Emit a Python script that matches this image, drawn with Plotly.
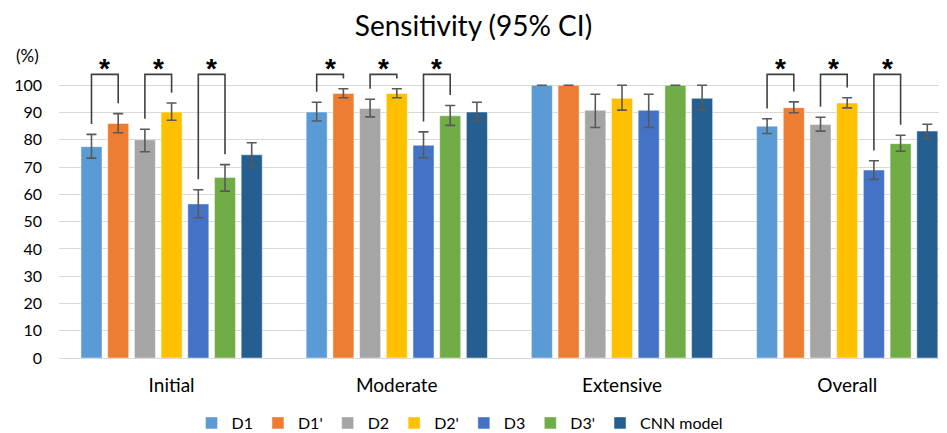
import plotly.graph_objects as go

categories = ["Initial", "Moderate", "Extensive", "Overall"]
series_names = ["D1", "D1'", "D2", "D2'", "D3", "D3'", "CNN model"]
colors = ["#5B9BD5", "#ED7D31", "#A5A5A5", "#FFC000", "#4472C4", "#70AD47", "#255E91"]

# sensitivity values (%) per series, per category
d1 = [77.5, 90.2, 100.0, 85.0]
d1p = [86.0, 97.0, 100.0, 91.8]
d2 = [80.0, 91.5, 90.8, 85.6]
d2p = [90.2, 97.0, 95.2, 93.5]
d3 = [56.5, 78.0, 90.8, 68.9]
d3p = [66.2, 88.8, 100.0, 78.6]
cnn = [74.5, 90.2, 95.2, 83.2]

# 95% CI lower / upper bounds
d1_lo = [73.3, 86.9, 100.0, 82.3]
d1_hi = [82.0, 93.8, 100.0, 87.7]
d1p_lo = [82.6, 95.4, 100.0, 89.9]
d1p_hi = [89.6, 98.7, 100.0, 93.9]
d2_lo = [75.6, 88.4, 84.5, 83.2]
d2_hi = [83.9, 94.9, 96.7, 88.3]
d2p_lo = [87.2, 95.4, 90.9, 91.7]
d2p_hi = [93.5, 98.7, 100.0, 95.4]
d3_lo = [51.4, 73.4, 84.5, 65.5]
d3_hi = [61.7, 82.9, 96.7, 72.3]
d3p_lo = [61.2, 85.3, 100.0, 75.8]
d3p_hi = [70.9, 92.6, 100.0, 81.7]
cnn_lo = [70.1, 86.9, 90.9, 80.3]
cnn_hi = [78.9, 93.8, 100.0, 85.7]

# significant pairs (series index a, series index b) in each category
sig_categories = [0, 1, 3]
sig_pairs = [(0, 1), (2, 3), (4, 5)]

values = [d1, d1p, d2, d2p, d3, d3p, cnn]
lows = [d1_lo, d1p_lo, d2_lo, d2p_lo, d3_lo, d3p_lo, cnn_lo]
highs = [d1_hi, d1p_hi, d2_hi, d2p_hi, d3_hi, d3p_hi, cnn_hi]

FONT = "Lato"
BARGAP = 0.17
BARGROUPGAP = 0.213

# the page body adds an 8px offset; size the figure so it fills the window
OFF = 8
W, H = 947 - OFF, 433 - OFF
ML, MR, MT = 59 - OFF, 0, 58 - OFF
MB = H - (358 - OFF)
PW, PH = W - ML - MR, H - MT - MB

def py(y_img):  # reference image y -> paper coordinate
    return (358 - y_img) / PH

def px(x_img):  # reference image x -> paper coordinate
    return (x_img - 59) / PW

fig = go.Figure()
xpos = list(range(len(categories)))
for name, col, v, lo, hi in zip(series_names, colors, values, lows, highs):
    fig.add_trace(go.Bar(
        name=name, x=xpos, y=v,
        marker=dict(color=col, line=dict(color="rgba(255,255,255,0.45)", width=1)),
        error_y=dict(type="data", symmetric=False,
                     array=[h - y for h, y in zip(hi, v)],
                     arrayminus=[y - l for y, l in zip(v, lo)],
                     color="#595959", thickness=1.6, width=5),
    ))

# bracket geometry derived from the grouped-bar layout
n = len(series_names)
slot = (1 - BARGAP) / n
def bar_center(c, i):
    return c - (1 - BARGAP) / 2 + (i + 0.5) * slot

leg_gap = 3.8
bracket_top = 104.0
shapes = []
annotations = []
for c in sig_categories:
    for a, b in sig_pairs:
        xa, xb = bar_center(c, a), bar_center(c, b)
        ya = highs[a][c] + leg_gap
        yb = highs[b][c] + leg_gap
        shapes.append(dict(type="path", xref="x", yref="y",
                           path=f"M {xa},{ya} L {xa},{bracket_top} L {xb},{bracket_top} L {xb},{yb}",
                           line=dict(color="#404040", width=1.6)))
        annotations.append(dict(x=(xa + xb) / 2, y=bracket_top - 4.2, xref="x", yref="y",
                                text="<b>*</b>", showarrow=False, yanchor="bottom",
                                font=dict(family="Liberation Sans", size=28, color="#000000")))

annotations.append(dict(x=px(27), y=py(55), xref="paper", yref="paper",
                        text="(%)", showarrow=False, xanchor="center", yanchor="middle",
                        font=dict(family=FONT, size=17, color="#000000")))

fig.update_layout(
    width=W, height=H,
    margin=dict(l=ML, r=MR, t=MT, b=MB, autoexpand=False),
    paper_bgcolor="white", plot_bgcolor="white",
    barmode="group", bargap=BARGAP, bargroupgap=BARGROUPGAP,
    font=dict(family=FONT, size=17, color="#000000"),
    title=dict(text="Sensitivity (95% CI)", x=(473.5 - OFF) / W, xref="container", xanchor="center",
               y=1 - (26 - OFF) / H, yref="container", yanchor="middle",
               font=dict(family=FONT, size=28, color="#000000")),
    xaxis=dict(tickvals=xpos, ticktext=categories, range=[-0.5, -0.5 + PW / 225.2],
               showgrid=False, zeroline=False, showline=False, ticks="", automargin=False,
               ticklabelstandoff=14, tickfont=dict(size=19)),
    yaxis=dict(range=[0, 110], tickvals=list(range(0, 101, 10)), automargin=False,
               showgrid=True, gridcolor="#D9D9D9", gridwidth=1,
               zeroline=True, zerolinecolor="#D9D9D9", zerolinewidth=1,
               showline=False, ticks="", ticklabelstandoff=16, tickfont=dict(size=16)),
    legend=dict(orientation="h", x=px(460), xanchor="center",
                y=py(423), yanchor="middle",
                font=dict(size=16), traceorder="normal"),
    shapes=shapes,
    annotations=annotations,
)

fig.write_html("out.html")
